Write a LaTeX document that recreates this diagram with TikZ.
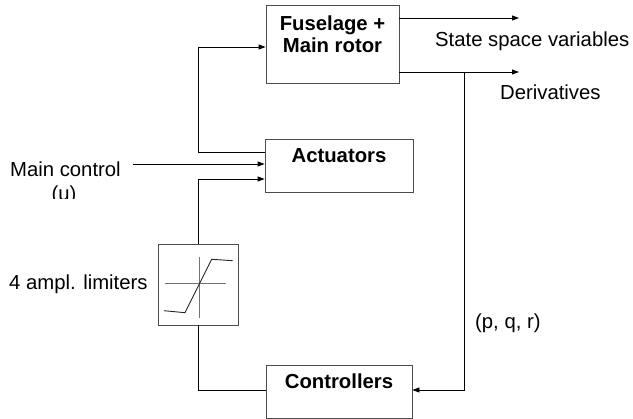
\documentclass[tikz,border=0pt]{standalone}
\usepackage{fontspec}
\setmainfont{Liberation Sans}
\usetikzlibrary{arrows.meta}
\begin{document}
\begin{tikzpicture}[x=1pt,y=-1pt,
  box/.style={draw=black!70,line width=0.8pt,rectangle,inner sep=0pt},
  lbl/.style={font=\fontsize{20.3}{24}\selectfont,inner sep=0pt,anchor=base},
  blbl/.style={lbl,font=\fontsize{20.3}{24}\selectfont\bfseries},
  wire/.style={draw=black,line width=0.8pt},
  arr/.style={wire,-{Triangle[length=7pt,width=5pt]}},
  axis/.style={draw=black!55,line width=0.8pt},
  sat/.style={draw=black!85,line width=0.9pt}]
\useasboundingbox (0,0) rectangle (633,419);
% boxes
\node[box,minimum width=133pt,minimum height=78pt] (fus) at (332.5,44) {};
\node[box,minimum width=148pt,minimum height=53pt] (act) at (339,165.5) {};
\node[box,minimum width=146pt,minimum height=53pt] (ctl) at (339,391.5) {};
\node[box,minimum width=80pt,minimum height=81pt] (lim) at (198.5,284.5) {};
% box texts
\node[blbl] (fust1) at (332.5,31) {Fuselage +};
\node[blbl] (fust2) at (332.5,53) {Main rotor};
\node[blbl] (actt) at (339,163) {Actuators};
\node[blbl] (ctlt) at (339,389) {Controllers};
% other texts
\node[lbl,anchor=base west] (ssv) at (435,47) {State space variables};
\node[lbl,anchor=base west] (der) at (500,100) {Derivatives};
\node[lbl,anchor=base west] (mc) at (10,177) {Main control};
\begin{scope}
\clip (0,150) rectangle (140,199);
\node[lbl] (u) at (64,201) {(u)};
\end{scope}
\node[lbl,anchor=base west] (al) at (9,290) {4 ampl. limiters};
\node[lbl,anchor=base west] (pqr) at (475,329) {(p, q, r)};
% limiter symbol
\draw[axis] (165,283) -- (226,283);
\draw[axis] (199,257) -- (199,318);
\draw[sat] (164,310.7) -- (185,312.7) -- (211.7,259.3) -- (232.7,260.7);
% coordinates
\coordinate (o1) at (519,18);
\coordinate (o2) at (519,72);
\coordinate (tap) at (464,72);
\coordinate (mcs) at (133,164);
% connectors
\draw[arr] (fus.east |- o1) -- (o1);
\draw[arr] (fus.east |- o2) -- (o2);
\draw[arr] (tap) -- (464,390) -- (ctl.east |- 0,390);
\draw[wire] (ctl.west |- 0,390) -- (lim.south |- 0,390) -- (lim.south);
\draw[arr] (lim.north) -- (lim.north |- 0,179) -- (act.west |- 0,179);
\draw[arr] (mcs) -- (act.west |- mcs);
\draw[arr] (act.west |- 0,152) -- (lim.north |- 0,152) -- (lim.north |- 0,47) -- (fus.west |- 0,47);
\end{tikzpicture}
\end{document}
